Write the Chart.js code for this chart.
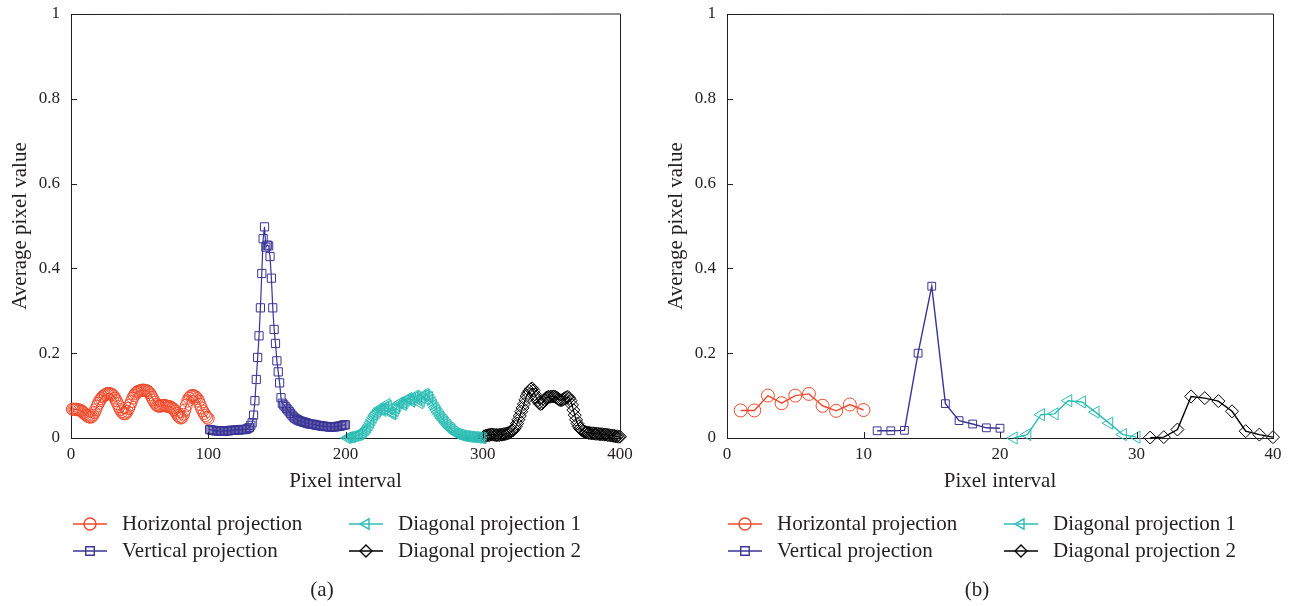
<!DOCTYPE html>
<html lang="en">
<head>
  <meta charset="UTF-8">
  <title>Projection curves (a) and (b)</title>
  <script src="https://cdn.jsdelivr.net/npm/chart.js"></script>
  <style>
    html, body { margin: 0; padding: 0; background: #fff; }
    .wrap { position: relative; width: 1290px; height: 606px; }
    .panel { position: absolute; top: 0; width: 645px; height: 606px; }
  </style>
</head>
<body>
  <div class="wrap">
    <div class="panel" style="left:0"><canvas id="chartA"></canvas></div>
    <div class="panel" style="left:645px"><canvas id="chartB"></canvas></div>
  </div>

  <script>
    // series names
    const seriesNames = ['Horizontal projection', 'Vertical projection', 'Diagonal projection 1', 'Diagonal projection 2'];

    // (a) 400 pixel intervals, 100 per projection
    const horizA = [
      0.068, 0.068, 0.067, 0.068, 0.067, 0.066, 0.065, 0.063,
      0.060, 0.057, 0.054, 0.052, 0.050, 0.049, 0.050,
      0.054, 0.060, 0.067, 0.075, 0.082, 0.088, 0.093, 0.097, 0.100,
      0.102, 0.104, 0.105, 0.105, 0.104, 0.102, 0.099, 0.094,
      0.088, 0.081, 0.074, 0.067, 0.062, 0.058, 0.057, 0.058,
      0.063, 0.070, 0.078, 0.086, 0.094, 0.100, 0.105, 0.108, 0.110,
      0.111, 0.112, 0.113, 0.113, 0.112, 0.112, 0.110, 0.107, 0.102,
      0.096, 0.090, 0.084, 0.079, 0.076, 0.075, 0.075, 0.076,
      0.077, 0.077, 0.076, 0.075, 0.074, 0.074, 0.072, 0.070, 0.067, 0.063,
      0.058, 0.053, 0.049, 0.047, 0.049, 0.056, 0.066,
      0.077, 0.087, 0.094, 0.098, 0.100, 0.100, 0.099,
      0.097, 0.093, 0.087, 0.079, 0.071, 0.064, 0.058, 0.053, 0.049, 0.046
    ];
    const vertA = [
      0.020, 0.019, 0.018, 0.018, 0.017, 0.017, 0.017, 0.016, 0.016, 0.016,
      0.016, 0.016, 0.017, 0.017, 0.017, 0.018, 0.018, 0.018, 0.018, 0.019,
      0.019, 0.019, 0.019, 0.020, 0.020, 0.020, 0.020,
      0.021, 0.023, 0.025, 0.030, 0.036, 0.054, 0.088, 0.138, 0.190, 0.241, 0.307, 0.388, 0.470, 0.498,
      0.450, 0.455, 0.453, 0.428, 0.377, 0.307, 0.256, 0.223, 0.182, 0.156, 0.130, 0.095,
      0.082, 0.078, 0.074, 0.070, 0.066, 0.062, 0.058,
      0.054, 0.050, 0.047, 0.045, 0.043, 0.041, 0.040, 0.039, 0.038, 0.037,
      0.036, 0.035, 0.034, 0.033, 0.033, 0.032, 0.032, 0.031, 0.030, 0.030,
      0.029, 0.029, 0.028, 0.028, 0.027, 0.027, 0.027, 0.026, 0.026, 0.026,
      0.026, 0.026, 0.027, 0.027, 0.028, 0.028, 0.029, 0.030, 0.031, 0.031
    ];
    const diag1A = [
      0.000, 0.001, 0.002, 0.002, 0.003, 0.004, 0.005, 0.006, 0.007, 0.008,
      0.010, 0.012, 0.015, 0.018, 0.021, 0.025, 0.030, 0.036, 0.042, 0.048,
      0.054, 0.058, 0.062, 0.066, 0.070, 0.068, 0.064, 0.068, 0.074, 0.080,
      0.076, 0.068, 0.060, 0.056, 0.058, 0.064, 0.070, 0.076, 0.082, 0.084,
      0.080, 0.078, 0.082, 0.088, 0.092, 0.094, 0.090, 0.086, 0.090, 0.096,
      0.100, 0.098, 0.090, 0.082, 0.086, 0.094, 0.100, 0.104, 0.102, 0.098,
      0.096, 0.090, 0.084, 0.078, 0.072, 0.066, 0.061, 0.056, 0.051, 0.047,
      0.043, 0.039, 0.035, 0.031, 0.027, 0.024, 0.021, 0.018, 0.015, 0.012,
      0.010, 0.009, 0.008, 0.007, 0.006, 0.005, 0.005, 0.004, 0.004, 0.003,
      0.003, 0.003, 0.002, 0.002, 0.002, 0.001, 0.001, 0.001, 0.000, 0.000
    ];
    const diag2A = [
      0.004, 0.005, 0.006, 0.007, 0.007, 0.008, 0.008, 0.008, 0.007, 0.007,
      0.007, 0.007, 0.008, 0.008, 0.009, 0.009, 0.010, 0.011, 0.012, 0.014,
      0.016, 0.018, 0.022, 0.027, 0.034, 0.043, 0.052, 0.062, 0.071, 0.080,
      0.090, 0.099, 0.106, 0.111, 0.115, 0.117, 0.112, 0.103, 0.095, 0.088,
      0.083, 0.080, 0.081, 0.085, 0.090, 0.094, 0.096, 0.097, 0.097, 0.098,
      0.098, 0.098, 0.097, 0.095, 0.092, 0.090, 0.089, 0.090, 0.092, 0.094,
      0.096, 0.097, 0.094, 0.088, 0.078, 0.066, 0.054, 0.043, 0.034, 0.027,
      0.022, 0.019, 0.017, 0.015, 0.014, 0.013, 0.012, 0.012, 0.011, 0.011,
      0.011, 0.010, 0.010, 0.010, 0.009, 0.009, 0.009, 0.008, 0.008, 0.008,
      0.007, 0.007, 0.006, 0.006, 0.005, 0.005, 0.004, 0.004, 0.003, 0.003
    ];

    // (b) 40 pixel intervals, 10 per projection
    const horizB = [0.065, 0.065, 0.100, 0.082, 0.100, 0.104, 0.076, 0.064, 0.079, 0.066];
    const vertB  = [0.017, 0.017, 0.018, 0.200, 0.358, 0.081, 0.041, 0.033, 0.024, 0.023];
    const diag1B = [0.000, 0.008, 0.055, 0.057, 0.088, 0.085, 0.061, 0.035, 0.008, 0.002];
    const diag2B = [0.001, 0.002, 0.020, 0.098, 0.094, 0.087, 0.063, 0.016, 0.008, 0.002];

    const yTicks = [0, 0.2, 0.4, 0.6, 0.8, 1];

    const colors = ['#ef4a2b', '#3a3596', '#2cbdb4', '#000000'];
    const styles = [
      { pointStyle: 'circle', rotation: 0 },
      { pointStyle: 'rect', rotation: 0 },
      { pointStyle: 'triangle', rotation: 270 },
      { pointStyle: 'rectRot', rotation: 0 }
    ];

    const SERIF = "'Liberation Serif', 'DejaVu Serif', serif";
    const INK = '#231f20';

    Chart.defaults.font.family = SERIF;
    Chart.defaults.color = INK;

    // points placed after each other along the x axis
    function toPoints(values, start) {
      return values.map((v, i) => ({ x: start + i, y: v }));
    }

    function makeDatasets(seriesList, n, radii, lw) {
      return seriesList.map((vals, k) => ({
        label: seriesNames[k],
        data: toPoints(vals, 1 + k * n),
        borderColor: colors[k],
        borderWidth: lw,
        pointStyle: styles[k].pointStyle,
        pointRotation: styles[k].rotation,
        pointRadius: radii[k],
        pointBorderWidth: 1,
        pointBorderColor: colors[k],
        pointBackgroundColor: 'rgba(0,0,0,0)',
        clip: false
      }));
    }

    // inward ticks, box, custom legend and caption
    const framePlugin = {
      id: 'frame',
      afterDraw(chart, args, opts) {
        const { ctx, chartArea: a, scales: { x, y } } = chart;
        ctx.save();
        ctx.strokeStyle = INK;
        ctx.lineWidth = 1;
        ctx.beginPath();
        x.ticks.forEach((t, i) => {
          const px = Math.round(x.getPixelForTick(i)) + 0.5;
          ctx.moveTo(px, a.bottom);
          ctx.lineTo(px, a.bottom - 6);
        });
        y.ticks.forEach((t, i) => {
          const py = Math.round(y.getPixelForTick(i)) + 0.5;
          ctx.moveTo(a.left, py);
          ctx.lineTo(a.left + 6, py);
        });
        ctx.moveTo(Math.round(a.right) + 0.5, a.bottom);
        ctx.lineTo(Math.round(a.right) + 0.5, a.top);
        ctx.lineTo(a.left, Math.round(a.top) + 0.5);
        ctx.stroke();

        // legend
        ctx.font = '21px ' + SERIF;
        ctx.textBaseline = 'middle';
        ctx.textAlign = 'left';
        opts.items.forEach((it, k) => {
          ctx.strokeStyle = colors[k];
          ctx.lineWidth = 1.4;
          ctx.beginPath();
          ctx.moveTo(it.x0, it.y);
          ctx.lineTo(it.x0 + 34, it.y);
          ctx.stroke();
          ctx.fillStyle = 'rgba(0,0,0,0)';
          Chart.helpers.drawPoint(ctx, {
            pointStyle: styles[k].pointStyle,
            rotation: styles[k].rotation,
            radius: 6,
            borderWidth: 1.2
          }, it.x0 + 17, it.y);
          ctx.fillStyle = INK;
          ctx.fillText(seriesNames[k], it.x0 + 49, it.y);
        });
        ctx.textAlign = 'center';
        ctx.fillText(opts.caption, opts.captionX, 590);
        ctx.restore();
      }
    };

    function makeChart(id, datasets, xMax, xStep, yWidth, rightPad, yTitlePad, legend) {
      return new Chart(document.getElementById(id), {
        type: 'line',
        data: { datasets },
        plugins: [framePlugin],
        options: {
          responsive: true,
          maintainAspectRatio: false,
          animation: false,
          events: [],
          layout: { padding: { top: 14, right: rightPad, bottom: 112, left: 0 } },
          plugins: {
            legend: { display: false },
            tooltip: { enabled: false },
            frame: legend
          },
          scales: {
            x: {
              type: 'linear',
              min: 0,
              max: xMax,
              afterFit: s => { s.height = 56; },
              grid: { display: false, drawTicks: false },
              border: { display: true, color: INK, width: 1 },
              ticks: { stepSize: xStep, padding: 6, font: { size: 17 }, color: INK },
              title: { display: true, text: 'Pixel interval', font: { size: 21 }, color: INK, padding: 0 }
            },
            y: {
              type: 'linear',
              min: 0,
              max: 1,
              afterFit: s => { s.width = yWidth; s.paddingTop = 0; s.paddingBottom = 0; },
              afterBuildTicks: s => { s.ticks = yTicks.map(v => ({ value: v })); },
              grid: { display: false, drawTicks: false },
              border: { display: true, color: INK, width: 1 },
              ticks: { padding: 11, font: { size: 17 }, color: INK, callback: v => String(v) },
              title: { display: true, text: 'Average pixel value', font: { size: 21 }, color: INK, padding: { top: yTitlePad, bottom: 0 } }
            }
          }
        }
      });
    }

    makeChart('chartA',
      makeDatasets([horizA, vertA, diag1A, diag2A], 100, [6, 5.8, 6.5, 6.5], 1.2),
      400, 100, 71, 25, 8,
      {
        items: [
          { x0: 73, y: 524 }, { x0: 73, y: 551 },
          { x0: 349, y: 524 }, { x0: 349, y: 551 }
        ],
        caption: '(a)', captionX: 322
      });

    makeChart('chartB',
      makeDatasets([horizB, vertB, diag1B, diag2B], 10, [6.5, 5.5, 7, 6.5], 1.4),
      40, 10, 82, 17, 19,
      {
        items: [
          { x0: 83, y: 524 }, { x0: 83, y: 551 },
          { x0: 359, y: 524 }, { x0: 359, y: 551 }
        ],
        caption: '(b)', captionX: 332
      });
  </script>
</body>
</html>
